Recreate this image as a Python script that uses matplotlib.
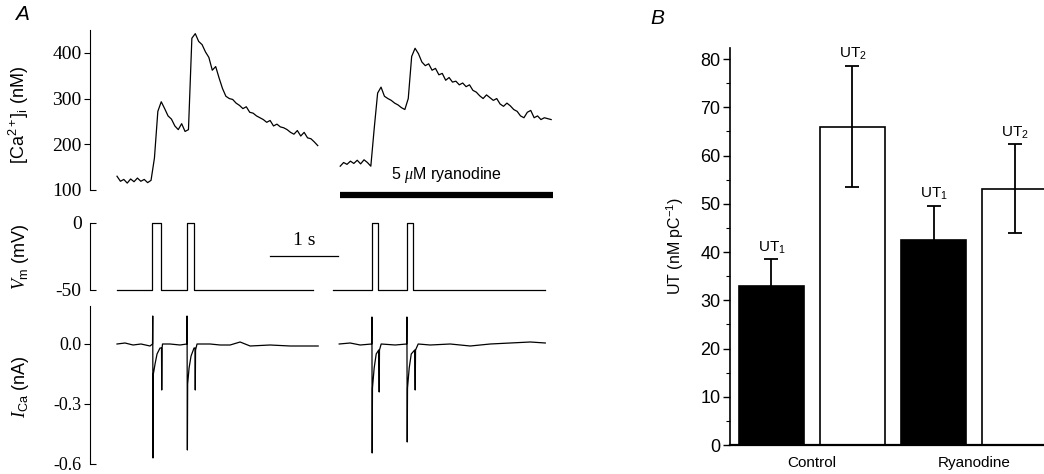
import numpy as np
import matplotlib
matplotlib.use("Agg")
import matplotlib.pyplot as plt

plt.rcParams['font.family'] = ['Liberation Sans', 'DejaVu Sans']
plt.rcParams['axes.unicode_minus'] = False
plt.rcParams['mathtext.fontset'] = 'custom'
plt.rcParams['mathtext.rm'] = 'Liberation Sans'
plt.rcParams['mathtext.it'] = 'Liberation Serif:italic'
plt.rcParams['mathtext.default'] = 'regular'

# ---- Panel A data (time in s) ----
DT = 0.05
ca1_t0 = 0.0
ca1 = [130, 119, 123, 115, 124, 118, 126, 119, 123, 116, 121, 170, 272, 293, 278,
       262, 255, 240, 232, 245, 228, 232, 432, 442, 425, 418, 402, 390, 362, 370,
       345, 322, 305, 300, 298, 290, 285, 278, 282, 270, 268, 262, 258, 254, 248,
       252, 240, 244, 238, 236, 232, 226, 222, 230, 218, 226, 214, 212, 205, 197]
ca2_t0 = 3.28
ca2 = [152, 160, 156, 163, 158, 165, 157, 166, 160, 152, 235, 312, 325, 305, 300,
       296, 290, 286, 280, 276, 300, 392, 410, 398, 380, 372, 376, 362, 366, 352,
       355, 340, 346, 336, 338, 330, 334, 326, 330, 318, 314, 306, 300, 308, 302,
       296, 300, 288, 283, 290, 284, 276, 272, 262, 258, 270, 274, 258, 262, 254,
       258, 256, 254]

vm1_t = [0.0, 0.52, 0.52, 0.64, 0.64, 1.025, 1.025, 1.135, 1.135, 2.88]
vm2_t = [3.18, 3.74, 3.74, 3.84, 3.84, 4.26, 4.26, 4.35, 4.35, 6.29]
vm_v = [-50, -50, 0, 0, -50, -50, 0, 0, -50, -50]

ica1_t = [0.0, 0.118, 0.235, 0.353, 0.485, 0.522, 0.525, 0.529, 0.534, 0.559,
          0.588, 0.632, 0.654, 0.657, 0.662, 0.669, 0.779, 0.926, 1.026, 1.029,
          1.034, 1.038, 1.059, 1.088, 1.132, 1.147, 1.150, 1.154, 1.176, 1.368,
          1.515, 1.662, 1.809, 1.956, 2.25, 2.544, 2.956]
ica1 = [0.0, 0.005, -0.005, 0.0, -0.01, 0.0, 0.14, -0.57, -0.15, -0.10,
        -0.05, -0.02, -0.02, -0.23, -0.02, 0.0, 0.0, -0.005, 0.0, 0.14,
        -0.53, -0.20, -0.12, -0.06, -0.02, -0.02, -0.23, -0.03, 0.0, 0.0,
        -0.005, -0.005, 0.01, -0.01, -0.005, -0.01, -0.01]
ica2_t = [3.265, 3.426, 3.574, 3.743, 3.746, 3.750, 3.754, 3.779, 3.809, 3.846,
          3.853, 3.857, 3.882, 4.088, 4.257, 4.260, 4.265, 4.269, 4.294, 4.324,
          4.375, 4.382, 4.387, 4.426, 4.603, 4.897, 5.191, 5.485, 5.779, 6.074, 6.294]
ica2 = [0.0, 0.005, -0.005, 0.0, 0.135, -0.545, -0.22, -0.12, -0.05, -0.03,
        -0.24, -0.03, 0.0, -0.005, 0.0, 0.135, -0.49, -0.22, -0.12, -0.05,
        -0.03, -0.23, -0.03, 0.0, -0.005, 0.0, -0.01, 0.0, 0.005, 0.01, 0.005]

ryan_bar = (3.28, 6.41)

# ---- Panel B data ----
bar_pos = [0, 1, 2, 3]
bar_vals = [33.0, 66.0, 42.6, 53.1]
bar_err = [5.5, 12.6, 7.0, 9.2]
bar_colors = ['black', 'white', 'black', 'white']
bar_labels = [r'UT$_1$', r'UT$_2$', r'UT$_1$', r'UT$_2$']
groups = ['Control', 'Ryanodine']
group_pos = [0.5, 2.5]

fig = plt.figure(figsize=(10.44, 4.74), dpi=100)
W, H = 1044.0, 474.0

def px_axes(x0, y0, x1, y1):
    return fig.add_axes([x0 / W, 1 - y1 / H, (x1 - x0) / W, (y1 - y0) / H])

XLIM = (-0.397, 6.51)
serif = 'Liberation Serif'

def style_a(ax):
    for s in ['top', 'right', 'bottom']:
        ax.spines[s].set_visible(False)
    ax.spines['left'].set_linewidth(0.8)
    ax.set_xlim(*XLIM)
    ax.set_xticks([])
    ax.tick_params(axis='y', which='both', length=4, width=0.8, labelsize=14,
                   labelfontfamily=serif)
    ax.tick_params(axis='y', which='major', direction='out', pad=2)
    ax.tick_params(axis='y', which='minor', direction='in', pad=6)

# Ca trace
ax1 = px_axes(90, 30, 560, 200)
ax1.set_ylim(78, 450)
ax1.spines['left'].set_bounds(100, 450)
ax1.plot(ca1_t0 + DT * np.arange(len(ca1)), ca1, color='black', lw=0.9)
ax1.plot(ca2_t0 + DT * np.arange(len(ca2)), ca2, color='black', lw=0.9)
ax1.plot(ryan_bar, [89, 89], color='black', lw=4.5, solid_capstyle='butt')
ax1.text(np.mean(ryan_bar), 133, r'5 $\mathit{\mu}$M ryanodine', fontsize=11.5,
         ha='center', va='center')
ax1.set_yticks([200, 300, 400])
ax1.set_yticklabels(['200', '300', '400'])
ax1.set_yticks([100], minor=True)
ax1.set_yticklabels(['100'], minor=True)
style_a(ax1)
ax1.set_ylabel(r'[Ca$^{2+}$]$_i$ (nM)', fontsize=13)

# Vm trace
ax2 = px_axes(90, 216, 560, 296.7)
ax2.set_ylim(-55, 5)
ax2.spines['left'].set_bounds(-50, 0)
ax2.plot(vm1_t, vm_v, color='black', lw=0.9)
ax2.plot(vm2_t, vm_v, color='black', lw=0.9)
ax2.plot([2.25, 3.25], [-24.7, -24.7], color='black', lw=0.9)
ax2.text(2.75, -13, '1 s', fontsize=14, fontfamily=serif, ha='center', va='center')
ax2.set_yticks([])
ax2.set_yticks([-50, 0], minor=True)
ax2.set_yticklabels(['-50', '0'], minor=True)
style_a(ax2)
ax2.set_ylabel(r'$\mathit{V}_m$ (mV)', fontsize=13)

# ICa trace
ax3 = px_axes(90, 306, 560, 468)
ax3.set_ylim(-0.62, 0.19)
ax3.spines['left'].set_bounds(-0.6, 0.19)
ax3.plot(ica1_t, ica1, color='black', lw=0.9)
ax3.plot(ica2_t, ica2, color='black', lw=0.9)
ax3.set_yticks([-0.3, 0.0])
ax3.set_yticklabels(['-0.3', '0.0'])
ax3.set_yticks([-0.6], minor=True)
ax3.set_yticklabels(['-0.6'], minor=True)
style_a(ax3)
ax3.tick_params(axis='y', which='both', labelsize=13)
ax3.set_ylabel(r'$\mathit{I}_{Ca}$ (nA)', fontsize=13)

for ax in (ax1, ax2, ax3):
    ax.yaxis.set_label_coords(-0.125, 0.5)

fig.text(15 / W, 1 - 14 / H, 'A', fontsize=15, fontstyle='italic', va='center')

# ---- Panel B ----
axb = px_axes(730, 48, 1044, 445)
axb.bar(bar_pos, bar_vals, width=0.8, color=bar_colors, edgecolor='black', lw=1.2,
        zorder=2)
axb.errorbar(bar_pos, bar_vals, yerr=bar_err, fmt='none', ecolor='black',
             elinewidth=1.3, capsize=5, capthick=1.3, zorder=3)
for p, v, e, lab in zip(bar_pos, bar_vals, bar_err, bar_labels):
    axb.text(p, v + e + 2.4, lab, ha='center', va='center', fontsize=11)
for g, gp in zip(groups, group_pos):
    axb.text(gp, -3.8, g, ha='center', va='center', fontsize=11)
axb.set_xlim(-0.512, 3.364)
axb.set_ylim(0, 82.3)
axb.set_yticks(np.arange(0, 81, 10))
axb.set_yticks(np.arange(5, 80, 10), minor=True)
axb.set_xticks([])
axb.spines['top'].set_visible(False)
axb.spines['right'].set_visible(False)
axb.spines['left'].set_linewidth(1.2)
axb.spines['bottom'].set_linewidth(1.6)
axb.tick_params(axis='y', which='major', length=5, width=1.0, labelsize=13, pad=2)
axb.tick_params(axis='y', which='minor', length=3, width=0.8)
axb.set_ylabel(r'UT (nM pC$^{-1}$)', fontsize=11.5, labelpad=10)

fig.text(650 / W, 1 - 18 / H, 'B', fontsize=15, fontstyle='italic', va='center')

fig.savefig('out.png', dpi=100)
